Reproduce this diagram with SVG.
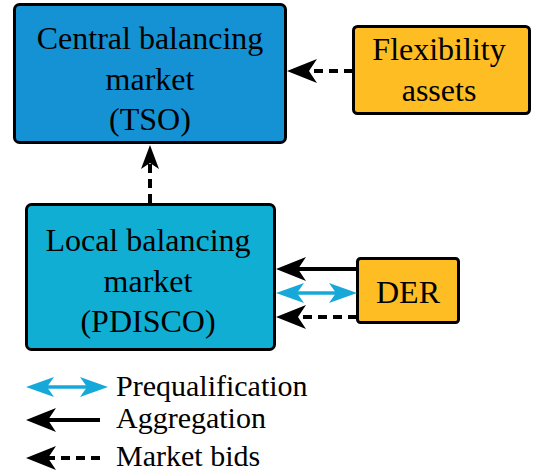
<svg xmlns="http://www.w3.org/2000/svg" width="537" height="476" viewBox="0 0 537 476">
<defs>
<style>
.box{stroke:#000;stroke-width:3}
text{font-family:"Liberation Serif",Tinos,"Nimbus Roman","FreeSerif",Times,"DejaVu Serif",serif;font-size:32px;fill:#000}
.c{text-anchor:middle}
.lg{font-size:30px}
.blk{stroke:#000;stroke-width:4;fill:none}
.dash{stroke-dasharray:9 6}
.blu{stroke:#17A8DA;stroke-width:3.5;fill:none}
</style>
<marker id="hb" markerUnits="userSpaceOnUse" viewBox="0 0 30 24" refX="8" refY="12" markerWidth="30" markerHeight="24" orient="auto">
<path d="M0,0 L30,12 L0,24 L8,12 Z" fill="#000"/>
</marker>
<marker id="hs" markerUnits="userSpaceOnUse" viewBox="0 0 24 18" refX="6" refY="9" markerWidth="24" markerHeight="18" orient="auto">
<path d="M0,0 L24,9 L0,18 L6,9 Z" fill="#000"/>
</marker>
<marker id="hl" markerUnits="userSpaceOnUse" viewBox="0 0 28 20" refX="7" refY="10" markerWidth="28" markerHeight="20" orient="auto-start-reverse">
<path d="M0,0 L28,10 L0,20 L7,10 Z" fill="#17A8DA"/>
</marker>
</defs>
<g id="central">
<rect class="box" x="14.5" y="4.5" width="271" height="138" rx="5" fill="#1592D3"/>
<text class="c" x="150" y="49">Central balancing</text>
<text class="c" x="150" y="90">market</text>
<text class="c" x="150" y="130">(TSO)</text>
</g>
<g id="flex">
<rect class="box" x="353.5" y="26.5" width="176" height="87" rx="4" fill="#FDBD23"/>
<text class="c" x="439" y="60">Flexibility</text>
<text class="c" x="439" y="101">assets</text>
</g>
<g id="local">
<rect class="box" x="26.5" y="204.5" width="248" height="145" rx="5" fill="#11AED4"/>
<text class="c" x="148" y="251">Local balancing</text>
<text class="c" x="148" y="292">market</text>
<text class="c" x="148" y="332">(PDISCO)</text>
</g>
<g id="der">
<rect class="box" x="357.5" y="258.5" width="101" height="64" rx="3" fill="#FDBD23"/>
<text class="c" x="408" y="303">DER</text>
</g>
<g id="connectors">
<path class="blk dash" d="M353,71 H309" marker-end="url(#hb)"/>
<path class="blk dash" d="M150,203 V163" marker-end="url(#hs)"/>
<path class="blk" d="M357,269 H298" marker-end="url(#hb)"/>
<path class="blu" d="M297,293 H336" marker-start="url(#hl)" marker-end="url(#hl)"/>
<path class="blk dash" d="M357,317 H298" marker-end="url(#hb)"/>
</g>
<g id="legend">
<path class="blu" d="M47,387 H87" marker-start="url(#hl)" marker-end="url(#hl)"/>
<text class="lg" x="116" y="396">Prequalification</text>
<path class="blk" d="M100,420 H48" marker-end="url(#hb)"/>
<text class="lg" x="116" y="428">Aggregation</text>
<path class="blk dash" d="M100,458 H48" marker-end="url(#hb)"/>
<text class="lg" x="116" y="466">Market bids</text>
</g>
</svg>
